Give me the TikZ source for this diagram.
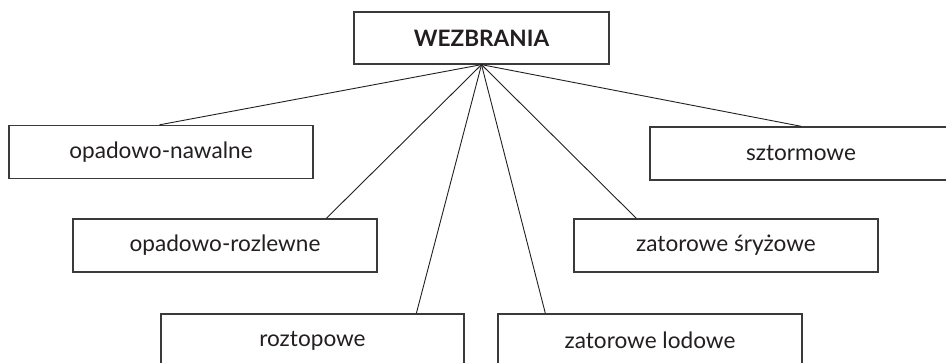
\documentclass[tikz,border=0pt]{standalone}
\usepackage{fontspec}
\setmainfont{Lato}
\definecolor{boxgray}{HTML}{3A3A3A}
\definecolor{textcol}{HTML}{231F20}
\tikzset{
  box/.style={draw=boxgray, line width=1.3pt, minimum width=304pt, minimum height=53pt,
    inner sep=0pt, font=\fontsize{22.6}{26}\selectfont, text=textcol},
  titlebox/.style={box, minimum width=255pt, minimum height=52pt,
    font=\fontsize{22.6}{26}\selectfont\bfseries},
  link/.style={draw=textcol, line width=0.9pt}
}
\begin{document}
\begin{tikzpicture}
\useasboundingbox (0pt,0pt) rectangle (946pt,-362pt);
\clip (0pt,0pt) rectangle (946pt,-362pt);
\node[titlebox] (w) at (481.5pt,-38pt) {WEZBRANIA};
\node[box] (naw) at (161pt,-152pt) {opadowo-nawalne};
\node[box] (roz) at (225pt,-245.5pt) {opadowo-rozlewne};
\node[box, minimum width=303pt] (rzt) at (312.5pt,-340.5pt) {roztopowe};
\node[box] (lod) at (650pt,-340.5pt) {zatorowe lodowe};
\node[box] (sry) at (726pt,-245.5pt) {zatorowe śryżowe};
\node[box, minimum width=302pt] (szt) at (801pt,-153.5pt) {sztormowe};
\draw[link] (w.south) -- ([xshift=151pt]naw.north west);
\draw[link] (w.south) -- ([xshift=254pt]roz.north west);
\draw[link] (w.south) -- ([xshift=256pt]rzt.north west);
\draw[link] (w.south) -- ([xshift=48pt]lod.north west);
\draw[link] (w.south) -- ([xshift=63pt]sry.north west);
\draw[link] (w.south) -- ([xshift=152pt]szt.north west);
\end{tikzpicture}
\end{document}
